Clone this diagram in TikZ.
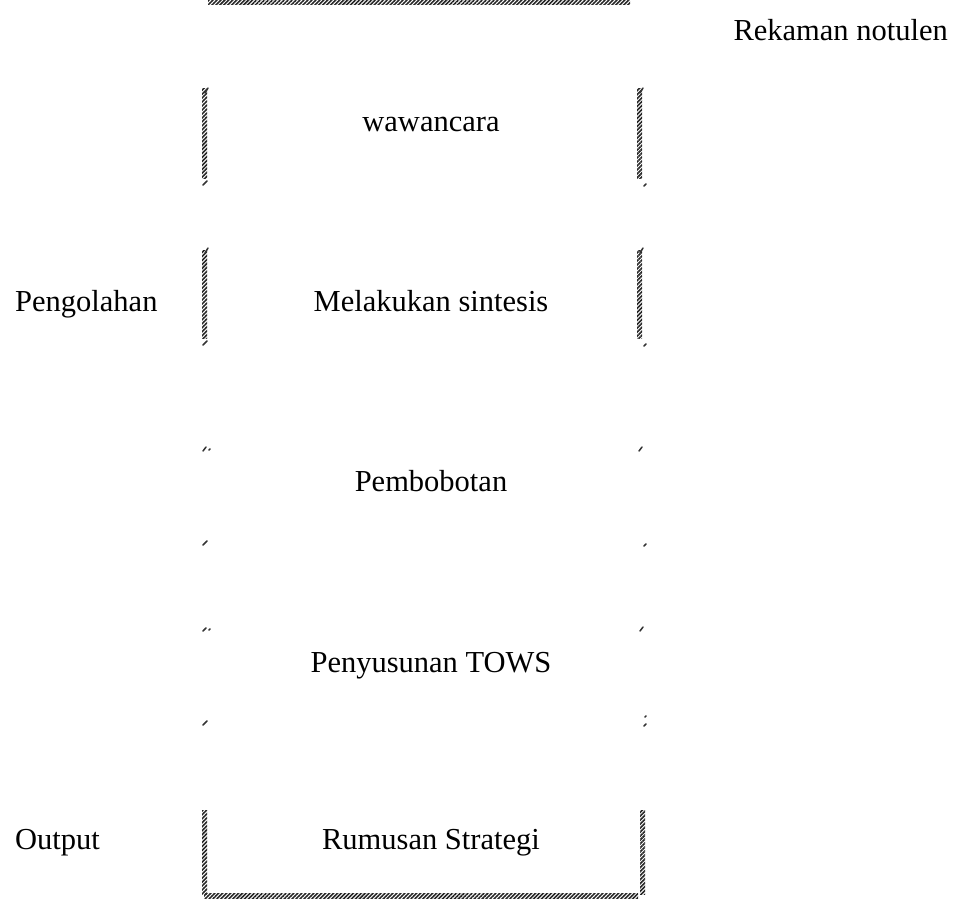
\documentclass[tikz,border=0pt]{standalone}
\usepackage{fontspec}
\setmainfont{Liberation Serif}
\usetikzlibrary{patterns.meta}
\begin{document}
\begin{tikzpicture}[x=1pt,y=-1pt,
  lbl/.style={font=\fontsize{30.5}{37}\selectfont, inner sep=0pt, anchor=base},
  hatch/.style={pattern={Lines[angle=45,distance=2.8pt,line width=1.6pt]}, pattern color=black!85},
  tickmark/.style={line width=1.5pt, black!80, line cap=round}]
\useasboundingbox (0,0) rectangle (954,902);

% texts
\node[lbl, anchor=base east] (rek) at (948,40) {Rekaman notulen};
\node[lbl] (waw) at (431,131) {wawancara};
\node[lbl, anchor=base west] (peng) at (15,311) {Pengolahan};
\node[lbl] (sint) at (431,311) {Melakukan sintesis};
\node[lbl] (bobot) at (431,491) {Pembobotan};
\node[lbl] (tows) at (431,672) {Penyusunan TOWS};
\node[lbl, anchor=base west] (out) at (15,849) {Output};
\node[lbl] (rumus) at (431,849) {Rumusan Strategi};

% top hatched line
\fill[hatch] (208,0) rectangle (630,4);

% wawancara bracket
\fill[hatch] (202,88) rectangle (207,178);
\fill[hatch] (637,88) rectangle (642,178);
\draw[tickmark] (205,93) -- (208,88);
\draw[tickmark] (640,93) -- (643,88);
\draw[tickmark] (203,185) -- (207,181);
\draw[tickmark] (644,186) -- (646,184);

% sintesis bracket
\fill[hatch] (202,250) rectangle (207,338);
\fill[hatch] (637,250) rectangle (642,338);
\draw[tickmark] (205,253) -- (208,248);
\draw[tickmark] (640,253) -- (643,248);
\draw[tickmark] (203,345) -- (207,341);
\draw[tickmark] (644,346) -- (646,344);

% Pembobotan marks
\draw[tickmark] (203,451) -- (206,447);
\draw[tickmark] (209,450) -- (210,449);
\draw[tickmark] (639,451) -- (642,447);
\draw[tickmark] (203,545) -- (207,541);
\draw[tickmark] (644,546) -- (646,544);

% TOWS marks
\draw[tickmark] (203,631) -- (206,628);
\draw[tickmark] (209,630) -- (210,629);
\draw[tickmark] (640,631) -- (643,627);
\draw[tickmark] (203,725) -- (207,721);
\draw[tickmark] (645,717) -- (646,716);
\draw[tickmark] (644,726) -- (646,724);

% Output box
\fill[hatch] (202,810) rectangle (207,894);
\fill[hatch] (640,810) rectangle (645,894);
\fill[hatch] (204,893) rectangle (638,898);
\end{tikzpicture}
\end{document}
